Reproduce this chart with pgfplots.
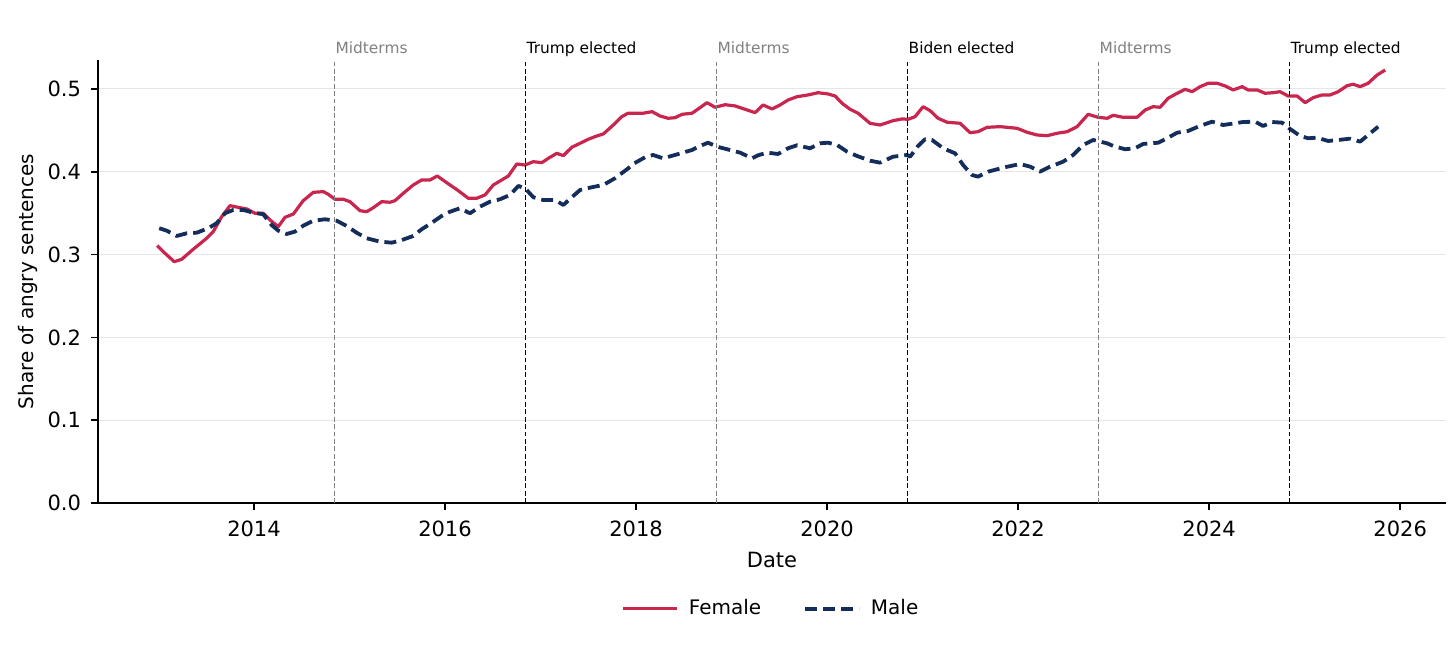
\documentclass[border=0pt]{standalone}
\usepackage{fontspec}
\setmainfont{DejaVu Sans}
\usepackage{pgfplots}
\pgfplotsset{compat=1.18}
\usepackage{pgfplotstable}
\definecolor{fem}{HTML}{C8264F}
\definecolor{mal}{HTML}{142D5A}
\definecolor{gridc}{HTML}{E6E6E6}
\definecolor{midc}{HTML}{808080}

\pgfplotstableread{
x y
2012.987 0.3108
2013.068 0.3016
2013.165 0.2914
2013.243 0.2943
2013.364 0.3064
2013.505 0.3197
2013.574 0.3277
2013.662 0.3458
2013.749 0.3591
2013.853 0.3566
2013.924 0.3551
2014.010 0.3499
2014.097 0.3499
2014.168 0.3418
2014.254 0.3337
2014.325 0.3450
2014.412 0.3490
2014.516 0.3651
2014.621 0.3752
2014.726 0.3760
2014.778 0.3728
2014.848 0.3668
2014.935 0.3668
2015.005 0.3639
2015.110 0.3530
2015.180 0.3518
2015.249 0.3566
2015.337 0.3639
2015.424 0.3632
2015.476 0.3651
2015.563 0.3740
2015.668 0.3841
2015.756 0.3901
2015.843 0.3901
2015.919 0.3949
2016.018 0.3868
2016.139 0.3772
2016.244 0.3680
2016.332 0.3680
2016.419 0.3720
2016.506 0.3841
2016.594 0.3901
2016.663 0.3949
2016.751 0.4094
2016.838 0.4082
2016.925 0.4122
2017.013 0.4110
2017.082 0.4163
2017.170 0.4223
2017.239 0.4195
2017.327 0.4296
2017.414 0.4344
2017.501 0.4393
2017.588 0.4432
2017.658 0.4457
2017.762 0.4565
2017.850 0.4665
2017.916 0.4707
2018.073 0.4707
2018.168 0.4726
2018.251 0.4674
2018.335 0.4646
2018.408 0.4653
2018.482 0.4694
2018.586 0.4707
2018.670 0.4774
2018.743 0.4835
2018.827 0.4779
2018.932 0.4810
2019.037 0.4795
2019.141 0.4755
2019.246 0.4714
2019.330 0.4807
2019.424 0.4758
2019.508 0.4807
2019.592 0.4867
2019.686 0.4907
2019.801 0.4928
2019.906 0.4955
2020.010 0.4940
2020.084 0.4915
2020.157 0.4827
2020.241 0.4755
2020.325 0.4707
2020.450 0.4585
2020.555 0.4565
2020.691 0.4617
2020.785 0.4638
2020.848 0.4634
2020.921 0.4665
2021.005 0.4786
2021.079 0.4738
2021.162 0.4646
2021.257 0.4598
2021.393 0.4586
2021.497 0.4472
2021.581 0.4484
2021.675 0.4537
2021.812 0.4545
2021.990 0.4525
2022.094 0.4477
2022.199 0.4444
2022.304 0.4436
2022.408 0.4465
2022.513 0.4484
2022.618 0.4545
2022.733 0.4694
2022.838 0.4658
2022.932 0.4646
2022.995 0.4682
2023.099 0.4658
2023.246 0.4658
2023.330 0.4746
2023.414 0.4786
2023.487 0.4779
2023.571 0.4888
2023.665 0.4948
2023.749 0.4996
2023.822 0.4967
2023.906 0.5028
2023.990 0.5069
2024.084 0.5069
2024.168 0.5036
2024.251 0.4988
2024.346 0.5028
2024.408 0.4988
2024.503 0.4988
2024.586 0.4948
2024.670 0.4955
2024.743 0.4967
2024.827 0.4915
2024.921 0.4915
2025.005 0.4835
2025.089 0.4895
2025.183 0.4928
2025.267 0.4928
2025.351 0.4967
2025.445 0.5040
2025.508 0.5057
2025.581 0.5028
2025.665 0.5069
2025.759 0.5169
2025.843 0.5229
}\female

\pgfplotstableread{
x y
2013.008 0.3318
2013.086 0.3289
2013.191 0.3225
2013.295 0.3257
2013.400 0.3264
2013.521 0.3318
2013.609 0.3378
2013.696 0.3499
2013.783 0.3539
2013.888 0.3539
2013.993 0.3506
2014.097 0.3487
2014.185 0.3357
2014.254 0.3289
2014.342 0.3249
2014.429 0.3277
2014.516 0.3349
2014.621 0.3409
2014.743 0.3426
2014.866 0.3409
2014.971 0.3345
2015.075 0.3264
2015.180 0.3197
2015.319 0.3156
2015.442 0.3144
2015.529 0.3168
2015.668 0.3225
2015.756 0.3306
2015.843 0.3370
2015.965 0.3466
2016.052 0.3518
2016.157 0.3559
2016.262 0.3499
2016.366 0.3579
2016.471 0.3639
2016.576 0.3668
2016.681 0.3720
2016.768 0.3829
2016.838 0.3801
2016.925 0.3692
2017.029 0.3659
2017.152 0.3659
2017.239 0.3599
2017.327 0.3692
2017.414 0.3780
2017.536 0.3813
2017.658 0.3841
2017.780 0.3922
2017.919 0.4042
2017.969 0.4094
2018.094 0.4175
2018.178 0.4203
2018.283 0.4163
2018.408 0.4203
2018.586 0.4263
2018.670 0.4312
2018.754 0.4351
2018.848 0.4303
2018.984 0.4263
2019.089 0.4231
2019.215 0.4163
2019.277 0.4199
2019.372 0.4231
2019.487 0.4215
2019.592 0.4284
2019.686 0.4320
2019.822 0.4284
2019.927 0.4344
2020.010 0.4351
2020.105 0.4324
2020.209 0.4243
2020.314 0.4191
2020.450 0.4134
2020.555 0.4110
2020.691 0.4182
2020.838 0.4203
2020.869 0.4182
2020.953 0.4312
2021.026 0.4393
2021.099 0.4384
2021.215 0.4284
2021.340 0.4223
2021.424 0.4082
2021.518 0.3961
2021.581 0.3941
2021.686 0.4001
2021.843 0.4050
2022.021 0.4094
2022.126 0.4062
2022.230 0.4001
2022.335 0.4062
2022.471 0.4122
2022.576 0.4203
2022.681 0.4324
2022.785 0.4384
2022.932 0.4344
2022.995 0.4312
2023.120 0.4272
2023.225 0.4284
2023.309 0.4336
2023.466 0.4351
2023.560 0.4405
2023.665 0.4472
2023.780 0.4493
2023.885 0.4545
2024.031 0.4605
2024.147 0.4565
2024.272 0.4586
2024.356 0.4601
2024.482 0.4605
2024.565 0.4553
2024.660 0.4601
2024.764 0.4593
2024.838 0.4525
2024.953 0.4432
2025.037 0.4405
2025.131 0.4412
2025.246 0.4372
2025.351 0.4384
2025.476 0.4400
2025.581 0.4364
2025.686 0.4465
2025.770 0.4545
}\male

\begin{document}
\begin{tikzpicture}
\begin{axis}[
  scale only axis,
  width=674pt, height=221.5pt,
  xmin=2012.367, xmax=2026.48,
  ymin=0, ymax=0.535,
  axis x line*=bottom, axis y line*=left,
  axis line style={line width=0.8pt, black},
  tick align=outside, tick style={line width=0.8pt, black},
  major tick length=3.5pt,
  xtick={2014,2016,2018,2020,2022,2024,2026},
  ytick={0,0.1,0.2,0.3,0.4,0.5},
  minor tick num=0,
  ymajorgrids,
  grid style={gridc, line width=0.5pt},
  /pgf/number format/assume math mode=true,
  x tick label style={/pgf/number format/1000 sep={}, font=\fontsize{10.5}{12}\selectfont},
  y tick label style={/pgf/number format/fixed, /pgf/number format/fixed zerofill, /pgf/number format/precision=1, font=\fontsize{10.5}{12}\selectfont},
  xticklabel style={yshift=-2pt},
  yticklabel style={xshift=-1.5pt},
  xlabel={Date},
  ylabel={Share of angry sentences},
  xlabel style={at={(rel axis cs:0.5,0)}, anchor=center, yshift=-28.5pt, font=\fontsize{10.5}{12}\selectfont},
  ylabel style={at={(axis description cs:-0.052,0.5)}, anchor=center, font=\fontsize{10}{12}\selectfont},
  legend style={at={(0.5,-0.239)}, anchor=center, draw=none, fill=none,
    legend columns=2, font=\fontsize{10}{12}\selectfont,
    /tikz/every odd column/.append style={column sep=3pt},
    /tikz/every even column/.append style={column sep=19pt}},
  legend cell align=left,
  legend image code/.code={\draw[#1] plot coordinates {(0pt,0pt) (27pt,0pt)};},
  clip=false,
]
\addplot[fem, line width=1.6pt, line join=round] table[x=x,y=y] {\female};
\addlegendentry{Female}
\addplot[mal, line width=1.9pt, dash pattern=on 6pt off 3pt, line join=round] table[x=x,y=y] {\male};
\addlegendentry{Male}

\foreach \xx/\lab/\col in {2014.84/Midterms/midc, 2016.84/Trump elected/black, 2018.84/Midterms/midc, 2020.84/Biden elected/black, 2022.84/Midterms/midc, 2024.84/Trump elected/black}{
  \edef\tmp{\noexpand\draw[\col, line width=0.7pt, dash pattern=on 2.4pt off 1.3pt] (axis cs:\xx,0) -- (axis cs:\xx,0.535);
  \noexpand\node[anchor=base west, inner sep=0pt, text=\col, font=\noexpand\fontsize{7.7}{9}\noexpand\selectfont] at ([xshift=0.5pt, yshift=3pt]axis cs:\xx,0.535) {\lab};}
  \tmp
}
\coordinate (sw) at (rel axis cs:0,0);
\coordinate (ne) at (rel axis cs:1,1);
\end{axis}
\path ([shift={(-49pt,-71.5pt)}]sw) rectangle ([shift={(5pt,30pt)}]ne);
\end{tikzpicture}
\end{document}
